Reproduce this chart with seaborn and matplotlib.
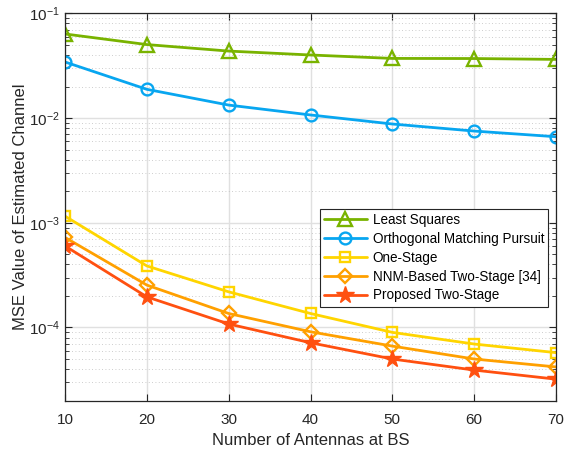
import numpy as np
import pandas as pd
import matplotlib
matplotlib.use("Agg")
import matplotlib.pyplot as plt
from matplotlib.ticker import LogLocator, FixedLocator, NullFormatter
import seaborn as sns

antennas = [10, 20, 30, 40, 50, 60, 70]
least_squares = [0.0635, 0.0503, 0.0436, 0.0400, 0.0371, 0.0370, 0.0363]
omp = [0.0343, 0.0188, 0.0133, 0.0107, 0.00877, 0.00751, 0.00663]
one_stage = [1.156e-3, 3.87e-4, 2.19e-4, 1.36e-4, 8.98e-5, 6.95e-5, 5.75e-5]
nnm_two_stage = [7.24e-4, 2.54e-4, 1.36e-4, 9.1e-5, 6.64e-5, 5.0e-5, 4.2e-5]
proposed = [6.0e-4, 1.96e-4, 1.08e-4, 7.15e-5, 5.0e-5, 3.92e-5, 3.21e-5]

series_names = ["Least Squares", "Orthogonal Matching Pursuit", "One-Stage",
                "NNM-Based Two-Stage [34]", "Proposed Two-Stage"]
series_values = [least_squares, omp, one_stage, nnm_two_stage, proposed]
colors = ["#79B300", "#08A6F0", "#FFD500", "#FFA000", "#FF5010"]
markers = ["^", "o", "s", "D", "*"]
msizes = [9.5, 8.5, 7.5, 7, 13]
filled = [False, False, False, False, True]

sns.set_style("white")
plt.rcParams["font.family"] = ["Liberation Sans", "DejaVu Sans"]
plt.rcParams["mathtext.fontset"] = "custom"
plt.rcParams["mathtext.rm"] = "Liberation Sans"
plt.rcParams["mathtext.it"] = "Liberation Sans:italic"
plt.rcParams["mathtext.bf"] = "Liberation Sans:bold"

txt = "#262626"
fig = plt.figure(figsize=(5.64, 4.5), dpi=100)
ax = fig.add_axes([0.1153, 0.1096, 0.8705, 0.8608])

for name, vals, c, m, ms, f in zip(series_names, series_values, colors, markers, msizes, filled):
    df = pd.DataFrame({"x": antennas, "y": vals})
    sns.lineplot(data=df, x="x", y="y", ax=ax, color=c, marker=m, markersize=ms,
                 markerfacecolor=(c if f else "none"), markeredgecolor=c,
                 markeredgewidth=1.7 if not f else 1.0, linewidth=2.0, label=name,
                 legend=False)

ax.set_yscale("log")
ax.set_xlim(10, 70)
ax.set_ylim(2e-5, 1e-1)
ax.set_xticks(antennas)
ax.set_xticklabels([str(a) for a in antennas])
ax.yaxis.set_major_locator(FixedLocator([1e-4, 1e-3, 1e-2, 1e-1]))
ax.set_yticklabels([r"$10^{-4}$", r"$10^{-3}$", r"$10^{-2}$", r"$10^{-1}$"])
ax.yaxis.set_minor_locator(LogLocator(base=10, subs=np.arange(2, 10), numticks=20))
ax.yaxis.set_minor_formatter(NullFormatter())

ax.grid(True, which="major", axis="both", color="#E0E0E0", linewidth=1.0, linestyle="-")
ax.grid(True, which="minor", axis="y", color="#BDBDBD", linewidth=0.6, linestyle=(0, (1, 3)))
ax.set_axisbelow(True)

ax.tick_params(which="both", direction="in", bottom=True, left=True, top=True, right=True,
               colors=txt, labelsize=11)
ax.tick_params(which="major", length=5, width=0.8)
ax.tick_params(which="minor", length=3, width=0.6)
ax.tick_params(axis="x", pad=9)
for s in ax.spines.values():
    s.set_color(txt)
    s.set_linewidth(0.9)

ax.set_xlabel("Number of Antennas at BS", fontsize=12, color=txt)
ax.set_ylabel("MSE Value of Estimated Channel", fontsize=12, color=txt, labelpad=1)

handles, labels = ax.get_legend_handles_labels()
leg = ax.legend(handles, labels, loc="upper right", bbox_to_anchor=(0.984, 0.495),
                borderaxespad=0, fontsize=9.75, frameon=True, fancybox=False,
                edgecolor=txt, framealpha=1, handlelength=3.2, handletextpad=0.4,
                borderpad=0.3, labelspacing=0.36)
leg.get_frame().set_linewidth(0.8)
for t in leg.get_texts():
    t.set_color("black")

fig.savefig("out.png", dpi=100)
